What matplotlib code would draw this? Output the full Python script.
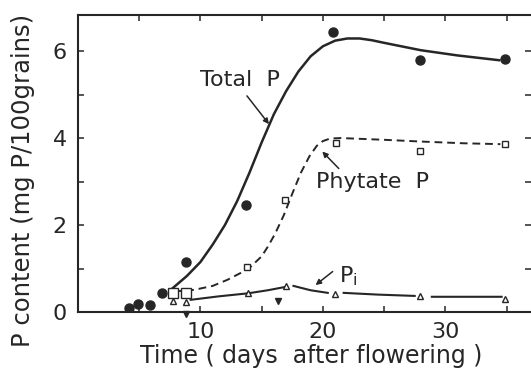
import numpy as np
import matplotlib.pyplot as plt

# measured points (days after flowering, mg P / 100 grains)
total_days = [4.15, 4.9, 5.9, 6.9, 8.85, 13.75, 20.8, 27.9, 34.9]
total_vals = [0.10, 0.18, 0.15, 0.43, 1.15, 2.47, 6.43, 5.79, 5.81]

phytate_days = [7.8, 8.85, 13.8, 16.9, 21.1, 27.9, 34.9]
phytate_vals = [0.44, 0.43, 1.04, 2.57, 3.89, 3.71, 3.86]

pi_days = [7.8, 8.85, 13.9, 17.0, 21.0, 27.9, 34.9]
pi_vals = [0.26, 0.24, 0.43, 0.60, 0.41, 0.37, 0.31]

# filled arrowheads on the time axis
mark_days = [8.8, 16.3]
mark_vals = [-0.04, 0.26]

# hand-drawn fitted curves
total_curve_d = [7.7, 8.9, 10.0, 11.0, 12.0, 13.0, 14.0, 15.0, 16.0, 17.0,
                 18.0, 19.0, 20.0, 21.0, 22.0, 23.0, 24.0, 25.0, 28.0, 31.0, 34.4]
total_curve_v = [0.54, 0.83, 1.15, 1.55, 2.00, 2.55, 3.20, 3.90, 4.55, 5.08,
                 5.53, 5.88, 6.11, 6.24, 6.29, 6.29, 6.25, 6.19, 6.02, 5.90, 5.79]

phytate_curve_d = [7.8, 9.5, 11.0, 12.2, 13.3, 14.1, 15.0, 15.5, 16.1, 16.8,
                   17.5, 18.2, 18.9, 19.5, 20.0, 20.6, 21.5, 25.0, 28.0, 31.5, 34.5]
phytate_curve_v = [0.47, 0.51, 0.60, 0.74, 0.90, 1.04, 1.28, 1.50, 1.80, 2.22,
                   2.72, 3.20, 3.58, 3.82, 3.93, 3.99, 4.00, 3.96, 3.92, 3.88, 3.86]

pi_curve_d = [9.2, 11.5, 13.9, 15.5, 17.0, np.nan, 17.6, 19.0, 20.4, np.nan,
              21.7, 24.5, 27.5, np.nan, 28.9, 31.5, 34.6]
pi_curve_v = [0.28, 0.36, 0.43, 0.50, 0.58, np.nan, 0.60, 0.50, 0.44, np.nan,
              0.44, 0.40, 0.37, np.nan, 0.35, 0.35, 0.35]

ink = '#262626'
plt.rcParams['font.family'] = ['DejaVu Sans']

fig = plt.figure(figsize=(5.31, 3.68), dpi=100)
ax = fig.add_axes([78 / 531, 1 - 312 / 368, 453 / 531, 297 / 368])

ax.plot(total_curve_d, total_curve_v, color=ink, lw=1.8)
ax.plot(phytate_curve_d, phytate_curve_v, color=ink, lw=1.4, ls=(0, (4, 2.5)))
ax.plot(pi_curve_d, pi_curve_v, color=ink, lw=1.5)

ax.plot(total_days, total_vals, 'o', ms=6.5, color=ink, zorder=4)
ax.plot(phytate_days[:2], phytate_vals[:2], 's', ms=7, mfc='white', mec=ink, mew=1.0, zorder=4)
ax.plot(phytate_days[2:], phytate_vals[2:], 's', ms=5, mfc='white', mec=ink, mew=1.0, zorder=4)
ax.plot(pi_days, pi_vals, '^', ms=5, mfc='white', mec=ink, mew=1.0, zorder=4)
ax.plot(mark_days, mark_vals, 'v', ms=5, color=ink, clip_on=False, zorder=5)

ax.set_xlim(0, 37.0)
ax.set_ylim(0, 6.83)
ax.set_xticks(range(5, 40, 5))
ax.set_xticklabels(['', '10', '', '20', '', '30', ''])
ax.set_yticks(range(0, 7))
ax.set_yticklabels(['0', '', '2', '', '4', '', '6'])
ax.tick_params(direction='in', length=4.5, width=1.1, top=True, right=True,
               labelsize=16, pad=7, colors=ink)
ax.tick_params(axis='y', pad=8)
for side in ['left', 'bottom', 'top']:
    ax.spines[side].set_linewidth(1.5)
    ax.spines[side].set_color(ink)
ax.spines['right'].set_visible(False)

# curve labels with pointer lines
arrow = dict(arrowstyle='-|>', color=ink, lw=1.1, mutation_scale=8, shrinkA=0, shrinkB=0)
ax.text(10.0, 5.33, 'Total  P', fontsize=16, color=ink, va='center')
ax.annotate('', xy=(15.6, 4.32), xytext=(13.8, 4.97), arrowprops=arrow)
ax.text(19.4, 3.0, 'Phytate  P', fontsize=16, color=ink, va='center')
ax.annotate('', xy=(19.95, 3.69), xytext=(21.3, 3.3), arrowprops=arrow)
ax.text(21.3, 0.83, 'P$_\\mathregular{i}$', fontsize=16, color=ink, va='center')
ax.annotate('', xy=(19.4, 0.62), xytext=(20.8, 0.93), arrowprops=arrow)

fig.text(311 / 531, 1 - 356 / 368, 'Time ( days  after flowering )', fontsize=17,
         color=ink, ha='center', va='center')
fig.text(23 / 531, 1 - 180 / 368, 'P content (mg P/100grains)', fontsize=17.5,
         color=ink, ha='center', va='center', rotation=90)

fig.savefig('out.png', dpi=100)
